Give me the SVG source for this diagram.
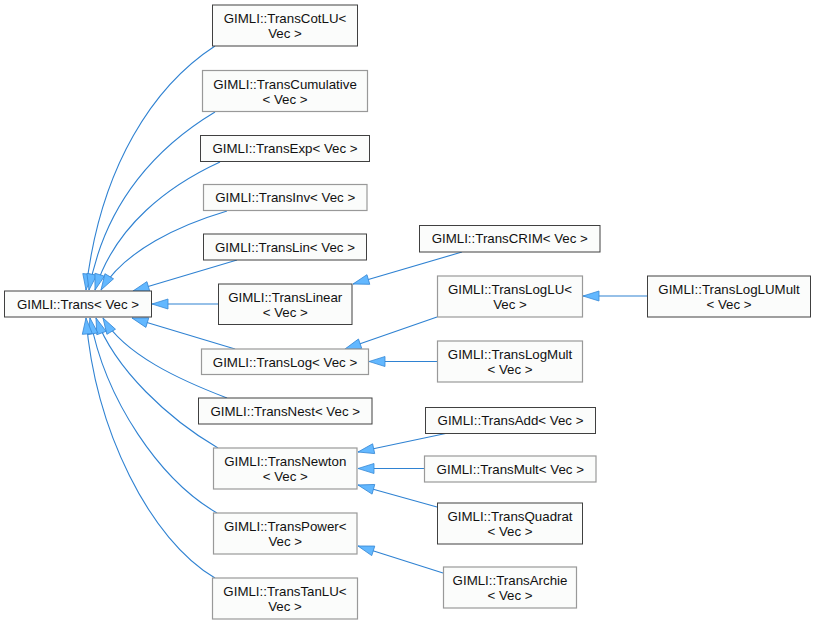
<svg xmlns="http://www.w3.org/2000/svg" width="815" height="625" viewBox="0 0 815 625">
<defs>
<style>
.n rect{fill:#fbfcfb;stroke-width:1}
.d rect{stroke:#404040}
.l rect{stroke:#999999;stroke-width:1.2}
.n text{font-family:"Liberation Sans",Arial,Helvetica,sans-serif;font-size:13.3px;fill:#111;text-anchor:middle}
.e path{fill:none;stroke:#2f82d2;stroke-width:1.1;marker-end:url(#ah)}
</style>
<marker id="ah" markerUnits="userSpaceOnUse" viewBox="-1 -1 18 12" markerWidth="18" markerHeight="12" refX="16" refY="5" orient="auto">
<path d="M0,0 L16,5 L0,10 Z" fill="#63b8ff" stroke="#3a8ad6" stroke-width="0.8"/>
</marker>
</defs>
<rect width="815" height="625" fill="#ffffff"/>
<g id="edges" class="e">
<path d="M215,46 C155,85 100,165 86,290"/>
<path d="M215,112 C160,145 105,200 89,290"/>
<path d="M220,162 C170,185 115,225 95,290"/>
<path d="M227,211 C180,225 125,250 101,290"/>
<path d="M237,260 L133,291"/>
<path d="M218,304 L152,304"/>
<path d="M235,349 L132,318"/>
<path d="M227,398 C180,380 125,355 103,318"/>
<path d="M218,448 C170,420 115,370 96,318"/>
<path d="M217,513 C160,480 105,400 90,318"/>
<path d="M215,578 C150,540 95,430 86,318"/>
<path d="M462,252 L353,284"/>
<path d="M437,317 L345,349"/>
<path d="M647,296 L583,296"/>
<path d="M437,361.5 L369,361.5"/>
<path d="M448,433 L358,452"/>
<path d="M424,468.5 L358,468.5"/>
<path d="M437,507 L358,485"/>
<path d="M443,573 L358,546"/>
</g>
<g id="trans" class="n d"><rect x="4.5" y="291" width="147" height="26"/><text x="78" y="309">GIMLI::Trans&lt; Vec &gt;</text></g>
<g id="transcotlu" class="n d"><rect x="212.5" y="5" width="145" height="41"/><text x="285" y="23">GIMLI::TransCotLU&lt;</text><text x="285" y="38">Vec &gt;</text></g>
<g id="transcumulative" class="n l"><rect x="202.5" y="70.5" width="165" height="41"/><text x="285" y="88.5">GIMLI::TransCumulative</text><text x="285" y="103.5">&lt; Vec &gt;</text></g>
<g id="transexp" class="n d"><rect x="200.5" y="135.5" width="169" height="26"/><text x="285" y="153">GIMLI::TransExp&lt; Vec &gt;</text></g>
<g id="transinv" class="n l"><rect x="203.5" y="184.5" width="163.5" height="26"/><text x="285.25" y="202">GIMLI::TransInv&lt; Vec &gt;</text></g>
<g id="translin" class="n d"><rect x="203.5" y="234" width="163" height="26"/><text x="285" y="251.5">GIMLI::TransLin&lt; Vec &gt;</text></g>
<g id="translinear" class="n d"><rect x="218.5" y="284" width="133.5" height="40.5"/><text x="285.25" y="301.5">GIMLI::TransLinear</text><text x="285.25" y="316.5">&lt; Vec &gt;</text></g>
<g id="translog" class="n l"><rect x="201.5" y="349" width="167" height="25.5"/><text x="285" y="366.5">GIMLI::TransLog&lt; Vec &gt;</text></g>
<g id="transnest" class="n d"><rect x="198.5" y="398" width="173.5" height="26"/><text x="285.25" y="415.5">GIMLI::TransNest&lt; Vec &gt;</text></g>
<g id="transnewton" class="n l"><rect x="213.5" y="448" width="143.5" height="41"/><text x="285.25" y="466">GIMLI::TransNewton</text><text x="285.25" y="481">&lt; Vec &gt;</text></g>
<g id="transpower" class="n l"><rect x="213.5" y="513" width="143.5" height="41"/><text x="285.25" y="531">GIMLI::TransPower&lt;</text><text x="285.25" y="546">Vec &gt;</text></g>
<g id="transtanlu" class="n l"><rect x="212.5" y="578" width="145" height="41"/><text x="285" y="596">GIMLI::TransTanLU&lt;</text><text x="285" y="611">Vec &gt;</text></g>
<g id="transcrim" class="n d"><rect x="419.5" y="225.5" width="180.5" height="26.5"/><text x="509.75" y="243">GIMLI::TransCRIM&lt; Vec &gt;</text></g>
<g id="transloglu" class="n l"><rect x="437.5" y="276" width="145" height="41"/><text x="510" y="294">GIMLI::TransLogLU&lt;</text><text x="510" y="309">Vec &gt;</text></g>
<g id="translogluMult" class="n d"><rect x="647.5" y="276" width="163" height="41"/><text x="729" y="294">GIMLI::TransLogLUMult</text><text x="729" y="309">&lt; Vec &gt;</text></g>
<g id="translogmult" class="n l"><rect x="437.5" y="341" width="145" height="41"/><text x="510" y="359">GIMLI::TransLogMult</text><text x="510" y="374">&lt; Vec &gt;</text></g>
<g id="transadd" class="n d"><rect x="425.5" y="407.5" width="170" height="26"/><text x="510.5" y="425">GIMLI::TransAdd&lt; Vec &gt;</text></g>
<g id="transmult" class="n l"><rect x="424.5" y="456" width="171.5" height="26"/><text x="510.25" y="473.5">GIMLI::TransMult&lt; Vec &gt;</text></g>
<g id="transquadrat" class="n d"><rect x="437.5" y="503" width="145" height="41"/><text x="510" y="521">GIMLI::TransQuadrat</text><text x="510" y="536">&lt; Vec &gt;</text></g>
<g id="transarchie" class="n l"><rect x="443.5" y="567" width="133" height="41"/><text x="510" y="585">GIMLI::TransArchie</text><text x="510" y="600">&lt; Vec &gt;</text></g>
</svg>
